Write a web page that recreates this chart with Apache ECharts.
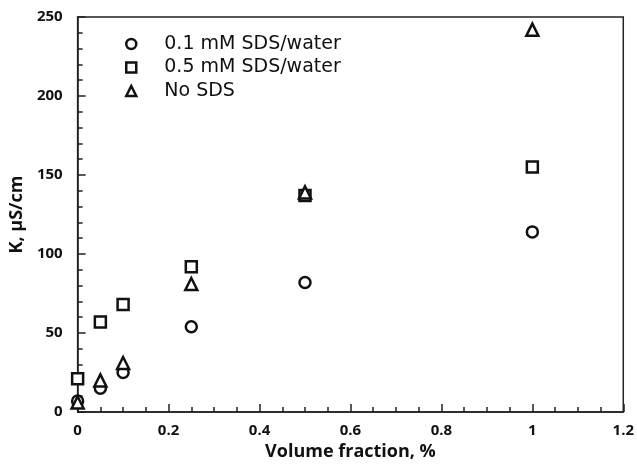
<!DOCTYPE html>
<html><head><meta charset="utf-8">
<script src="https://cdn.jsdelivr.net/npm/echarts@6/dist/echarts.min.js"></script>
<style>html,body{margin:0;padding:0;background:#fff}#c{width:637px;height:466px}</style>
</head><body><div id="c"></div>
<script>
const xVals = [0, 0.05, 0.1, 0.25, 0.5, 1];
const sds01 = [7, 15, 25, 54, 82, 114];
const sds05 = [21, 57, 68, 92, 137, 155];
const noSds = [6, 20, 31, 81, 139, 242];
const seriesNames = ['0.1 mM SDS/water', '0.5 mM SDS/water', 'No SDS'];
const symbols = ['circle', 'rect', 'triangle'];
const yData = [sds01, sds05, noSds];

const legendFont = 'DejaVu Sans';
const axisFont = 'Open Sans';
const chart = echarts.init(document.getElementById('c'));
chart.setOption({
  animation: false,
  grid: {left: 73, right: 10, top: 17, bottom: 47, show: true, borderColor: '#222', borderWidth: 1.5},
  legend: {
    orient: 'vertical', left: 120, top: 29, itemGap: 3.5, itemWidth: 10, itemHeight: 10,
    itemStyle: {color: '#fff', borderColor: '#111', borderWidth: 2.5},
    textStyle: {fontFamily: legendFont, fontSize: 19, lineHeight: 20, color: '#111', padding: [0, 0, 0, 23]},
    data: seriesNames
  },
  xAxis: {
    type: 'value', min: 0, max: 1.2, interval: 0.2,
    name: 'Volume fraction, %', nameLocation: 'middle', nameGap: 31,
    nameTextStyle: {fontFamily: axisFont, fontWeight: 'bold', fontSize: 18, color: '#111'},
    axisLine: {show: true, lineStyle: {color: '#222', width: 1.5}},
    axisTick: {show: true, inside: true, length: 8, lineStyle: {color: '#222', width: 1.5}},
    minorTick: {show: true, splitNumber: 4, length: 5, lineStyle: {color: '#222', width: 1.5}},
    splitLine: {show: false},
    axisLabel: {fontFamily: axisFont, fontWeight: 'bold', fontSize: 15, color: '#111', margin: 11}
  },
  yAxis: {
    type: 'value', min: 0, max: 250, interval: 50,
    name: 'K, µS/cm', nameLocation: 'middle', nameGap: 44,
    nameTextStyle: {fontFamily: axisFont, fontWeight: 'bold', fontSize: 18, color: '#111'},
    axisLine: {show: true, lineStyle: {color: '#222', width: 1.5}},
    axisTick: {show: true, inside: true, length: 8, lineStyle: {color: '#222', width: 1.5}},
    minorTick: {show: true, splitNumber: 5, length: 5, lineStyle: {color: '#222', width: 1.5}},
    splitLine: {show: false},
    axisLabel: {fontFamily: axisFont, fontWeight: 'bold', fontSize: 15, color: '#111', margin: 15}
  },
  series: seriesNames.map((n, i) => ({
    name: n, type: 'scatter', symbol: symbols[i], symbolSize: i === 2 ? 12 : 11,
    itemStyle: {color: '#fff', borderColor: '#111', borderWidth: 2.5, opacity: 1},
    data: xVals.map((x, j) => [x, yData[i][j]])
  }))
});
</script></body></html>
